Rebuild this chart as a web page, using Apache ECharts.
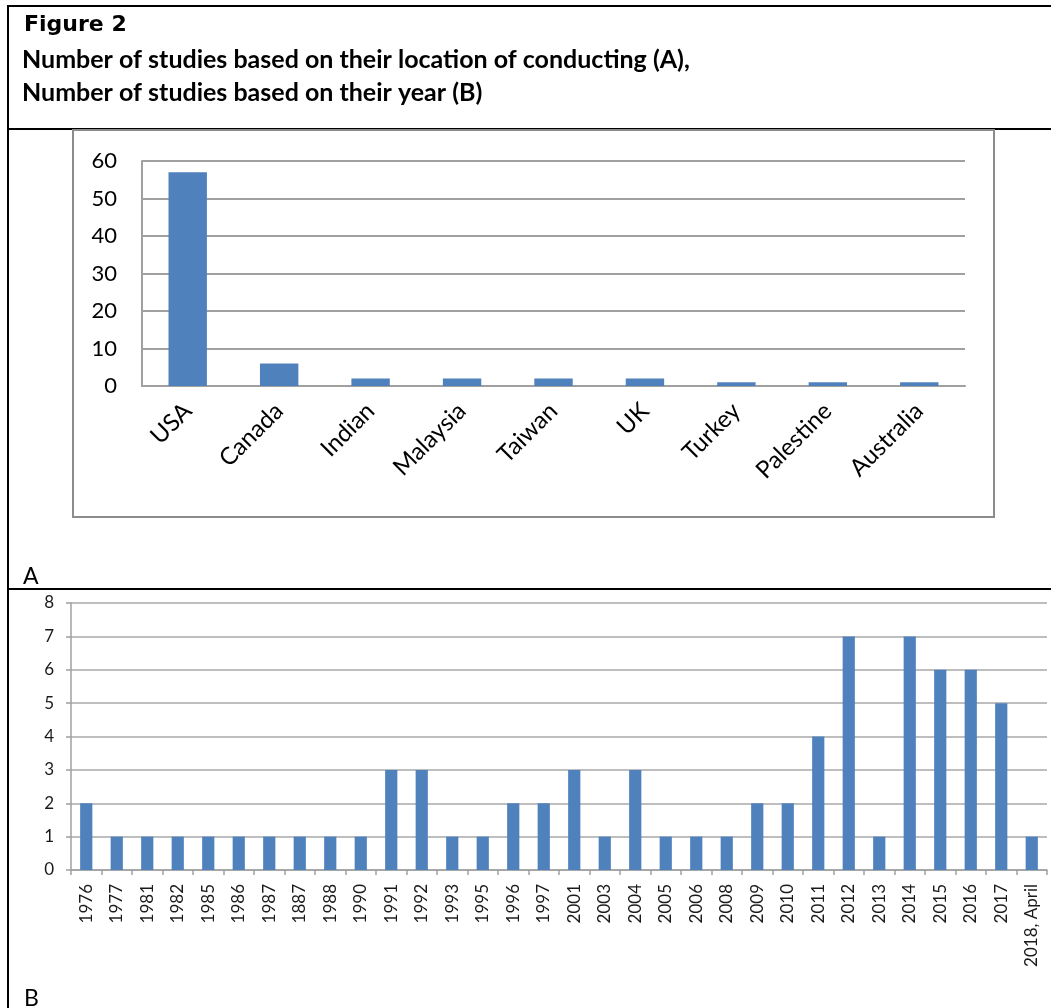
<!DOCTYPE html>
<html>
<head>
<meta charset="utf-8">
<script src="https://cdn.jsdelivr.net/npm/echarts@6/dist/echarts.min.js"></script>
<style>
html,body{margin:0;padding:0;background:#fff;}
#c{width:1051px;height:1008px;}
</style>
</head>
<body>
<div id="c"></div>
<script>
// Panel A: studies by location
const countries = ['USA', 'Canada', 'Indian', 'Malaysia', 'Taiwan', 'UK', 'Turkey', 'Palestine', 'Australia'];
const countryStudies = [57, 6, 2, 2, 2, 2, 1, 1, 1];

// Panel B: studies by year
const years = ['1976', '1977', '1981', '1982', '1985', '1986', '1987', '1887', '1988', '1990',
  '1991', '1992', '1993', '1995', '1996', '1997', '2001', '2003', '2004', '2005', '2006',
  '2008', '2009', '2010', '2011', '2012', '2013', '2014', '2015', '2016', '2017', '2018, April'];
const yearStudies = [2, 1, 1, 1, 1, 1, 1, 1, 1, 1,
  3, 3, 1, 1, 2, 2, 3, 1, 3, 1, 1,
  1, 2, 2, 4, 7, 1, 7, 6, 6, 5, 1];

// Titles
const figureLabel = 'Figure 2';
const titleLines = ['Number of studies based on their location of conducting (A),', 'Number of studies based on their year (B)'];
const panelLabels = ['A', 'B'];

const chart = echarts.init(document.getElementById('c'), null, { renderer: 'canvas' });
const barColor = '#4F81BD';
const W = 1051;

chart.setOption({
  animation: false,
  backgroundColor: '#fff',
  grid: [
    { left: 142, top: 161, right: W - 965, height: 225, containLabel: false },
    { left: 71, top: 603, right: 4, height: 267, containLabel: false }
  ],
  xAxis: [
    {
      gridIndex: 0, type: 'category', data: countries,
      axisLine: { show: true, lineStyle: { color: '#a0a0a0', width: 2 } },
      axisTick: { show: false },
      axisLabel: { rotate: 45, margin: 21, fontFamily: 'Lato', fontSize: 24, color: '#000', interval: 0 }
    },
    {
      gridIndex: 1, type: 'category', data: years,
      axisLine: { show: true, lineStyle: { color: '#a0a0a0', width: 1.5 } },
      axisTick: { show: true, length: 5, lineStyle: { color: '#a0a0a0', width: 1.5 } },
      axisLabel: { rotate: 90, margin: 14, fontFamily: 'Lato', fontSize: 17, color: '#1a1a1a', interval: 0 }
    }
  ],
  yAxis: [
    {
      gridIndex: 0, type: 'value', min: 0, max: 60, interval: 10,
      axisLine: { show: true, lineStyle: { color: '#a0a0a0', width: 2 } },
      axisTick: { show: false },
      splitLine: { show: true, lineStyle: { color: '#a0a0a0', width: 2 } },
      axisLabel: { margin: 25, fontFamily: 'Lato', fontSize: 22, color: '#000' }
    },
    {
      gridIndex: 1, type: 'value', min: 0, max: 8, interval: 1,
      axisLine: { show: true, lineStyle: { color: '#a0a0a0', width: 1.5 } },
      axisTick: { show: true, length: 5, lineStyle: { color: '#a0a0a0', width: 1.5 } },
      splitLine: { show: true, lineStyle: { color: '#a8a8a8', width: 1.5 } },
      axisLabel: { margin: 17, fontFamily: 'Lato', fontSize: 17, color: '#1a1a1a' }
    }
  ],
  series: [
    { type: 'bar', xAxisIndex: 0, yAxisIndex: 0, data: countryStudies, barWidth: '42%', itemStyle: { color: barColor } },
    { type: 'bar', xAxisIndex: 1, yAxisIndex: 1, data: yearStudies, barWidth: '40%', itemStyle: { color: barColor } }
  ],
  graphic: [
    { type: 'line', shape: { x1: 8, y1: 6, x2: W, y2: 6 }, style: { stroke: '#000', lineWidth: 2 } },
    { type: 'line', shape: { x1: 8, y1: 5, x2: 8, y2: 1008 }, style: { stroke: '#000', lineWidth: 2 } },
    { type: 'line', shape: { x1: 8, y1: 129, x2: W, y2: 129 }, style: { stroke: '#000', lineWidth: 2 } },
    { type: 'line', shape: { x1: 8, y1: 589, x2: W, y2: 589 }, style: { stroke: '#000', lineWidth: 2 } },
    { type: 'rect', shape: { x: 73, y: 130, width: 921, height: 387 }, style: { fill: 'none', stroke: '#8c8c8c', lineWidth: 2 } },
    { type: 'text', x: 24, y: 36, style: { text: figureLabel, font: 'bold 22px "DejaVu Sans"', fill: '#000', textVerticalAlign: 'bottom' } },
    { type: 'text', x: 22, y: 72, style: { text: titleLines[0], font: 'bold 25px Lato', fill: '#000', textVerticalAlign: 'bottom' } },
    { type: 'text', x: 22, y: 105, style: { text: titleLines[1], font: 'bold 25px Lato', fill: '#000', textVerticalAlign: 'bottom' } },
    { type: 'text', x: 23, y: 588, style: { text: panelLabels[0], font: '23px Lato', fill: '#000', textVerticalAlign: 'bottom' } },
    { type: 'text', x: 24, y: 1010, style: { text: panelLabels[1], font: '23px Lato', fill: '#000', textVerticalAlign: 'bottom' } }
  ]
});
</script>
</body>
</html>
